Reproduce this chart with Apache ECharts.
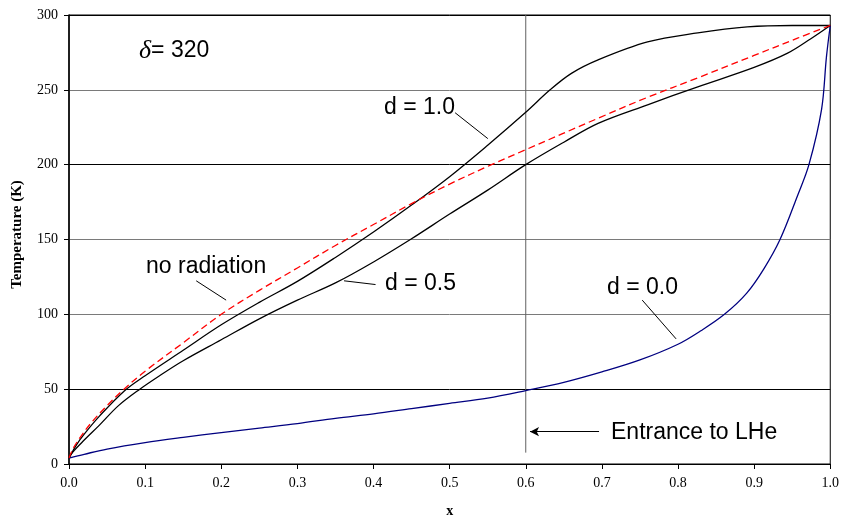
<!DOCTYPE html>
<html>
<head>
<meta charset="utf-8">
<script src="https://cdn.jsdelivr.net/npm/echarts@6/dist/echarts.min.js"></script>
<style>html,body{margin:0;padding:0;background:#fff;}#c{width:842px;height:523px;}</style>
</head>
<body>
<div id="c"></div>
<script>
// ---- data ----
var xTicks = [0, 0.1, 0.2, 0.3, 0.4, 0.5, 0.6, 0.7, 0.8, 0.9, 1.0];
var yTicks = [0, 50, 100, 150, 200, 250, 300];

var xD10 = [0, 0.01, 0.02, 0.04, 0.073, 0.1, 0.15, 0.2, 0.25, 0.3, 0.35, 0.4, 0.45, 0.5, 0.55, 0.6, 0.632, 0.66, 0.695, 0.76, 0.826, 0.891, 0.95, 1.0];
var yD10 = [4, 13, 20, 32, 49, 59, 76, 93, 108, 122, 138, 155, 173, 192, 213, 235, 250, 261, 270, 282, 288, 292, 293, 293];

var xNoRad = [0, 0.005, 0.015, 0.03, 0.05, 0.07, 0.1, 0.15, 0.2, 0.25, 0.3, 0.35, 0.4, 0.45, 0.5, 0.555, 0.6, 0.695, 0.76, 0.826, 0.9, 0.957, 1.0];
var yNoRad = [4, 10, 18, 28, 39, 49, 62, 81, 100, 116, 131, 146, 160, 174, 187, 200, 210, 231, 245, 258, 273, 284.5, 293];

var xD05 = [0, 0.005, 0.02, 0.04, 0.065, 0.093, 0.119, 0.15, 0.2, 0.25, 0.3, 0.35, 0.4, 0.45, 0.5, 0.55, 0.6, 0.65, 0.695, 0.76, 0.826, 0.9, 0.944, 0.974, 1.0];
var yD05 = [4, 8, 16, 26, 39, 50, 59, 69, 83, 97, 109.5, 121, 135, 150.5, 167, 183, 200, 215, 227.6, 240, 252, 265, 274.5, 284, 293];

var xD00 = [0, 0.02, 0.05, 0.1, 0.15, 0.2, 0.25, 0.3, 0.35, 0.4, 0.45, 0.5, 0.55, 0.6, 0.65, 0.7, 0.75, 0.8, 0.83, 0.861, 0.89, 0.913, 0.934, 0.957, 0.972, 0.9886, 0.995, 1.0];
var yD00 = [4, 6.5, 10, 14.3, 17.8, 21, 24, 27, 30.5, 33.5, 37, 40.5, 44, 49, 54.5, 61.5, 69.5, 80, 89, 100, 114, 130.6, 150, 179.3, 200, 237, 272, 293];

// vertical "entrance" line (x, y range) and annotation leader lines in data units
var entranceX = 0.6;
var entranceY = [7.6, 300];
var leaders = [
  [[0.5072, 234.7], [0.5502, 217.4]],
  [[0.1671, 122.4], [0.2064, 109.5]],
  [[0.3613, 122.4], [0.4027, 119.9]],
  [[0.7530, 109.5], [0.7975, 83.6]]
];
var arrowLine = [[0.6963, 21.6], [0.6056, 21.6]];

function zip(xs, ys) { return xs.map(function (x, i) { return [x, ys[i]]; }); }

var chart = echarts.init(document.getElementById('c'), null, { renderer: 'canvas' });
var serif = "'Liberation Serif', 'Times New Roman', serif";
var sans = "'Liberation Sans', Arial, sans-serif";
var SM = 0.35;

var option = {
  animation: false,
  backgroundColor: '#fff',
  grid: { left: 69, right: 10, top: 15, bottom: 57, show: true, borderColor: '#000', borderWidth: 1, backgroundColor: 'transparent' },
  xAxis: {
    type: 'value', min: 0, max: 1, interval: 0.1,
    name: 'x', nameLocation: 'middle', nameGap: 40,
    nameTextStyle: { fontFamily: serif, fontWeight: 'bold', fontSize: 14, color: '#000' },
    axisLine: { show: true, lineStyle: { color: '#000', width: 1 } },
    axisTick: { show: true, length: 5, inside: false, lineStyle: { color: '#000' } },
    axisLabel: { margin: 12, fontFamily: serif, fontSize: 14, color: '#000', formatter: function (v) { return v.toFixed(1); } },
    splitLine: { show: false }
  },
  yAxis: {
    type: 'value', min: 0, max: 300, interval: 50,
    name: 'Temperature (K)', nameLocation: 'middle', nameGap: 44, nameRotate: 90,
    nameTextStyle: { fontFamily: serif, fontWeight: 'bold', fontSize: 15, color: '#000', padding: [0, 0, 0, 10] },
    axisLine: { show: true, lineStyle: { color: '#000', width: 1.5 } },
    axisTick: { show: true, length: 5, lineStyle: { color: '#000' } },
    axisLabel: { margin: 11, fontFamily: serif, fontSize: 14, color: '#000' },
    splitLine: { show: true, lineStyle: { color: ['#000', '#000', '#7a7a7a', '#7a7a7a', '#000', '#7a7a7a', '#000'], width: 1 } }
  },
  series: [
    {
      name: 'entrance', type: 'line', data: entranceY.map(function (y) { return [entranceX, y]; }),
      symbol: 'none', lineStyle: { color: '#606060', width: 1 }, silent: true, z: 1,
      markLine: {
        silent: true, symbol: ['none', 'none'], label: { show: false },
        lineStyle: { color: '#000', width: 1, type: 'solid' },
        data: leaders.map(function (l) { return [{ coord: l[0] }, { coord: l[1] }]; })
      }
    },
    {
      name: 'arrow', type: 'line', data: [], symbol: 'none', silent: true,
      markLine: {
        silent: true, symbol: ['none', 'arrow'], symbolSize: [7, 9], label: { show: false },
        lineStyle: { color: '#000', width: 1, type: 'solid' },
        data: [[{ coord: arrowLine[0] }, { coord: arrowLine[1] }]]
      }
    },
    { name: 'd = 0.0', type: 'line', data: zip(xD00, yD00), symbol: 'none', smooth: SM, lineStyle: { color: '#000080', width: 1.3 }, z: 3 },
    { name: 'd = 0.5', type: 'line', data: zip(xD05, yD05), symbol: 'none', smooth: SM, lineStyle: { color: '#000', width: 1.3 }, z: 3 },
    { name: 'd = 1.0', type: 'line', data: zip(xD10, yD10), symbol: 'none', smooth: SM, lineStyle: { color: '#000', width: 1.3 }, z: 3 },
    { name: 'no radiation', type: 'line', data: zip(xNoRad, yNoRad), symbol: 'none', smooth: SM, lineStyle: { color: '#ff0000', width: 1.3, type: [7, 4] }, z: 4 }
  ],
  graphic: [
    { type: 'text', left: 139, top: 38, style: { text: '{g|δ}{t|= 320}', rich: { g: { fontFamily: serif, fontStyle: 'italic', fontSize: 26, fill: '#000' }, t: { fontFamily: sans, fontSize: 23, fill: '#000' } } } },
    { type: 'text', left: 384, top: 96, style: { text: 'd = 1.0', fontFamily: sans, fontSize: 23, fill: '#000' } },
    { type: 'text', left: 146, top: 255, style: { text: 'no radiation', fontFamily: sans, fontSize: 23, fill: '#000' } },
    { type: 'text', left: 385, top: 272, style: { text: 'd = 0.5', fontFamily: sans, fontSize: 23, fill: '#000' } },
    { type: 'text', left: 607, top: 276, style: { text: 'd = 0.0', fontFamily: sans, fontSize: 23, fill: '#000' } },
    { type: 'text', left: 611, top: 421, style: { text: 'Entrance to LHe', fontFamily: sans, fontSize: 23, fill: '#000' } }
  ]
};
chart.setOption(option);
</script>
</body>
</html>
